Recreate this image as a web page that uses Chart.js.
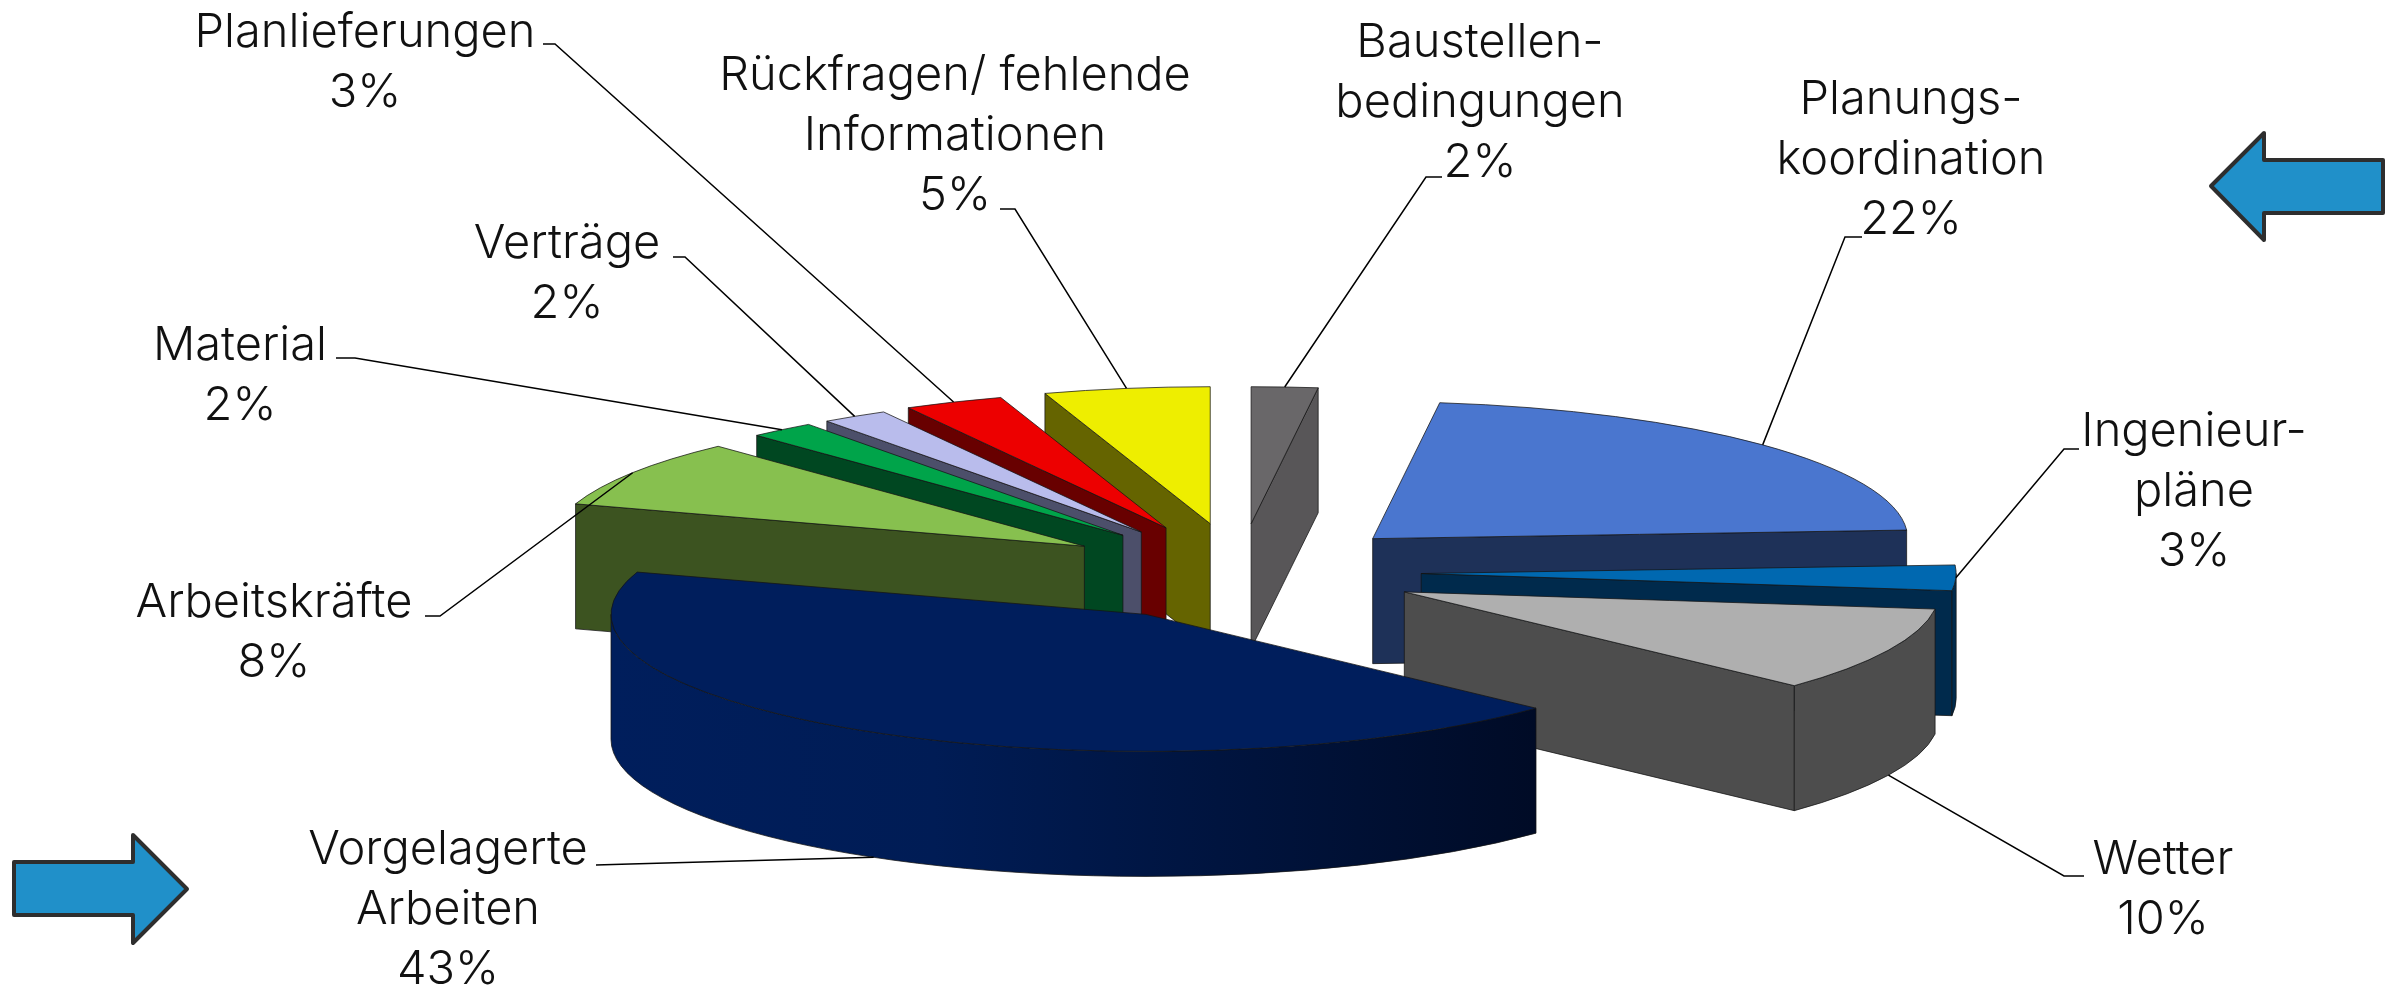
<!DOCTYPE html>
<html lang="de">
<head>
<meta charset="utf-8">
<title>Ursachen</title>
<script src="https://cdn.jsdelivr.net/npm/chart.js@4/dist/chart.umd.js"></script>
<style>
  html, body { margin: 0; padding: 0; background: #fff; }
  canvas { display: block; }
</style>
</head>
<body>
<canvas id="pieChart" width="2397" height="989"></canvas>
<script>
const categories = [
  'Baustellen-\nbedingungen',
  'Planungs-\nkoordination',
  'Ingenieur-\npläne',
  'Wetter',
  'Vorgelagerte\nArbeiten',
  'Arbeitskräfte',
  'Material',
  'Verträge',
  'Planlieferungen',
  'Rückfragen/ fehlende\nInformationen',
];
const shares = [2, 22, 3, 10, 43, 8, 2, 2, 3, 5];

const topColors = ['#696769', '#4a76cf', '#0068b0', '#afafaf', '#001e5c', '#87c04f', '#00a44a', '#b9bcec', '#ed0000', '#eeee00'];
const sideColors = ['#585658', '#1e3158', '#002a4c', '#4d4d4d', '#001e5c', '#3c5320', '#004721', '#4c4f6a', '#680000', '#656400'];
const explode = [151, 149, 149, 150, 140, 136, 134, 134, 134, 134];
// small corrections, the original view has a little perspective
const nudge = [[8, 3], [3, 2], [0, 2], [0, 1], [6, 5], [0, 0], [1, -1], [2, -1], [3, -2], [6, -3]];

// squashed view of the flat pie
const view = { cx: 1231, cy: 570, rx: 535, ry: 137, depth: 125 };
const labelFont = '300 47px Inter';
const lineHeight = 60;

// label centre x, y of first line, then leader start and elbow
const labelLayout = [
  { x: 1480, y: 43, from: [1442, 177], elbow: [1426, 177] },
  { x: 1911, y: 100, from: [1862, 237], elbow: [1845, 237] },
  { x: 2194, y: 432, from: [2079, 449], elbow: [2064, 449] },
  { x: 2163, y: 860, from: [2084, 876], elbow: [2064, 876] },
  { x: 448, y: 850, from: [596, 865], elbow: [630, 864] },
  { x: 274, y: 603, from: [425, 616], elbow: [440, 616] },
  { x: 240, y: 346, from: [336, 358], elbow: [355, 358] },
  { x: 567, y: 244, from: [673, 257], elbow: [685, 257] },
  { x: 365, y: 33, from: [543, 44], elbow: [555, 44] },
  { x: 955, y: 76, from: [1000, 209], elbow: [1015, 209] },
];

const arrows = [
  [[14, 862], [133, 862], [133, 835], [187, 889], [133, 943], [133, 915], [14, 915]],
  [[2211, 186], [2264, 133], [2264, 160], [2383, 160], [2383, 213], [2264, 213], [2264, 240]],
];

function sliceGeometry(arc, index) {
  const R = arc.outerRadius;
  const mid = (arc.startAngle + arc.endAngle) / 2;
  const off = arc.options.offset;
  return {
    ax: view.cx + Math.cos(mid) * off * view.rx / R + nudge[index][0],
    ay: view.cy + Math.sin(mid) * off * view.ry / R + nudge[index][1],
    start: arc.startAngle,
    end: arc.endAngle,
    mid: mid,
  };
}

function edgePoint(g, angle) {
  return [g.ax + Math.cos(angle) * view.rx, g.ay + Math.sin(angle) * view.ry];
}

function paint(ctx, fill) {
  ctx.fillStyle = fill;
  ctx.fill();
  ctx.strokeStyle = 'rgba(20, 20, 20, 0.75)';
  ctx.lineWidth = 1;
  ctx.stroke();
}

function radialWall(ctx, g, angle, fill) {
  const p = edgePoint(g, angle);
  ctx.beginPath();
  ctx.moveTo(g.ax, g.ay);
  ctx.lineTo(p[0], p[1]);
  ctx.lineTo(p[0], p[1] + view.depth);
  ctx.lineTo(g.ax, g.ay + view.depth);
  ctx.closePath();
  paint(ctx, fill);
}

function drawSlice(ctx, arc, index) {
  const g = sliceGeometry(arc, index);
  const side = sideColors[index];

  // flat side that looks towards the viewer
  if (Math.cos(g.start) < -0.001) radialWall(ctx, g, g.start, side);
  if (Math.cos(g.end) > 0.001) radialWall(ctx, g, g.end, side);

  // outer curved wall, only its front half shows
  const a = Math.max(g.start, 0);
  const b = Math.min(g.end, Math.PI);
  if (b > a) {
    let fill = side;
    if (shares[index] === Math.max(...shares)) {
      const grad = ctx.createLinearGradient(g.ax - view.rx, 0, edgePoint(g, a)[0], 0);
      grad.addColorStop(0, '#001e5c');
      grad.addColorStop(0.35, '#001c55');
      grad.addColorStop(1, '#000b26');
      fill = grad;
    }
    ctx.beginPath();
    ctx.ellipse(g.ax, g.ay, view.rx, view.ry, 0, a, b);
    ctx.ellipse(g.ax, g.ay + view.depth, view.rx, view.ry, 0, b, a, true);
    ctx.closePath();
    paint(ctx, fill);
  }

  // top face
  ctx.beginPath();
  ctx.moveTo(g.ax, g.ay);
  ctx.ellipse(g.ax, g.ay, view.rx, view.ry, 0, g.start, g.end);
  ctx.closePath();
  paint(ctx, arc.options.backgroundColor);
}

function drawLeader(ctx, arc, index) {
  const g = sliceGeometry(arc, index);
  const layout = labelLayout[index];
  const p = edgePoint(g, g.mid);
  const endY = Math.sin(g.mid) > 0.05 ? p[1] + view.depth : p[1];
  ctx.beginPath();
  ctx.moveTo(layout.from[0], layout.from[1]);
  ctx.lineTo(layout.elbow[0], layout.elbow[1]);
  ctx.lineTo(p[0], endY);
  ctx.strokeStyle = '#000';
  ctx.lineWidth = 1.5;
  ctx.stroke();
}

function drawLabel(ctx, index) {
  const layout = labelLayout[index];
  const lines = categories[index].split('\n').concat(shares[index] + '%');
  ctx.font = labelFont;
  ctx.fillStyle = '#111';
  ctx.textAlign = 'center';
  ctx.textBaseline = 'middle';
  lines.forEach((line, i) => ctx.fillText(line, layout.x, layout.y + i * lineHeight));
}

function drawArrow(ctx, points) {
  ctx.beginPath();
  points.forEach((p, i) => (i ? ctx.lineTo(p[0], p[1]) : ctx.moveTo(p[0], p[1])));
  ctx.closePath();
  ctx.fillStyle = '#2090c9';
  ctx.fill();
  ctx.strokeStyle = '#2e2e2e';
  ctx.lineWidth = 4;
  ctx.lineJoin = 'round';
  ctx.stroke();
}

const pie3d = {
  id: 'pie3d',
  beforeDatasetDraw(chart, args) {
    const ctx = chart.ctx;
    const arcs = args.meta.data;
    // back slices first
    const order = arcs.map((arc, i) => i).sort((i, j) => sliceGeometry(arcs[i], i).ay - sliceGeometry(arcs[j], j).ay);
    order.forEach((i) => drawSlice(ctx, arcs[i], i));
    return false;
  },
  afterDraw(chart) {
    const ctx = chart.ctx;
    const arcs = chart.getDatasetMeta(0).data;
    ctx.save();
    arcs.forEach((arc, i) => drawLeader(ctx, arc, i));
    arcs.forEach((arc, i) => drawLabel(ctx, i));
    arrows.forEach((points) => drawArrow(ctx, points));
    ctx.restore();
  },
};

new Chart(document.getElementById('pieChart').getContext('2d'), {
  type: 'pie',
  data: {
    labels: categories,
    datasets: [{
      data: shares,
      backgroundColor: topColors,
      borderWidth: 0,
      offset: explode,
    }],
  },
  options: {
    responsive: false,
    animation: false,
    layout: { padding: 0 },
    plugins: { legend: { display: false }, tooltip: { enabled: false } },
  },
  plugins: [pie3d],
});
</script>
</body>
</html>
